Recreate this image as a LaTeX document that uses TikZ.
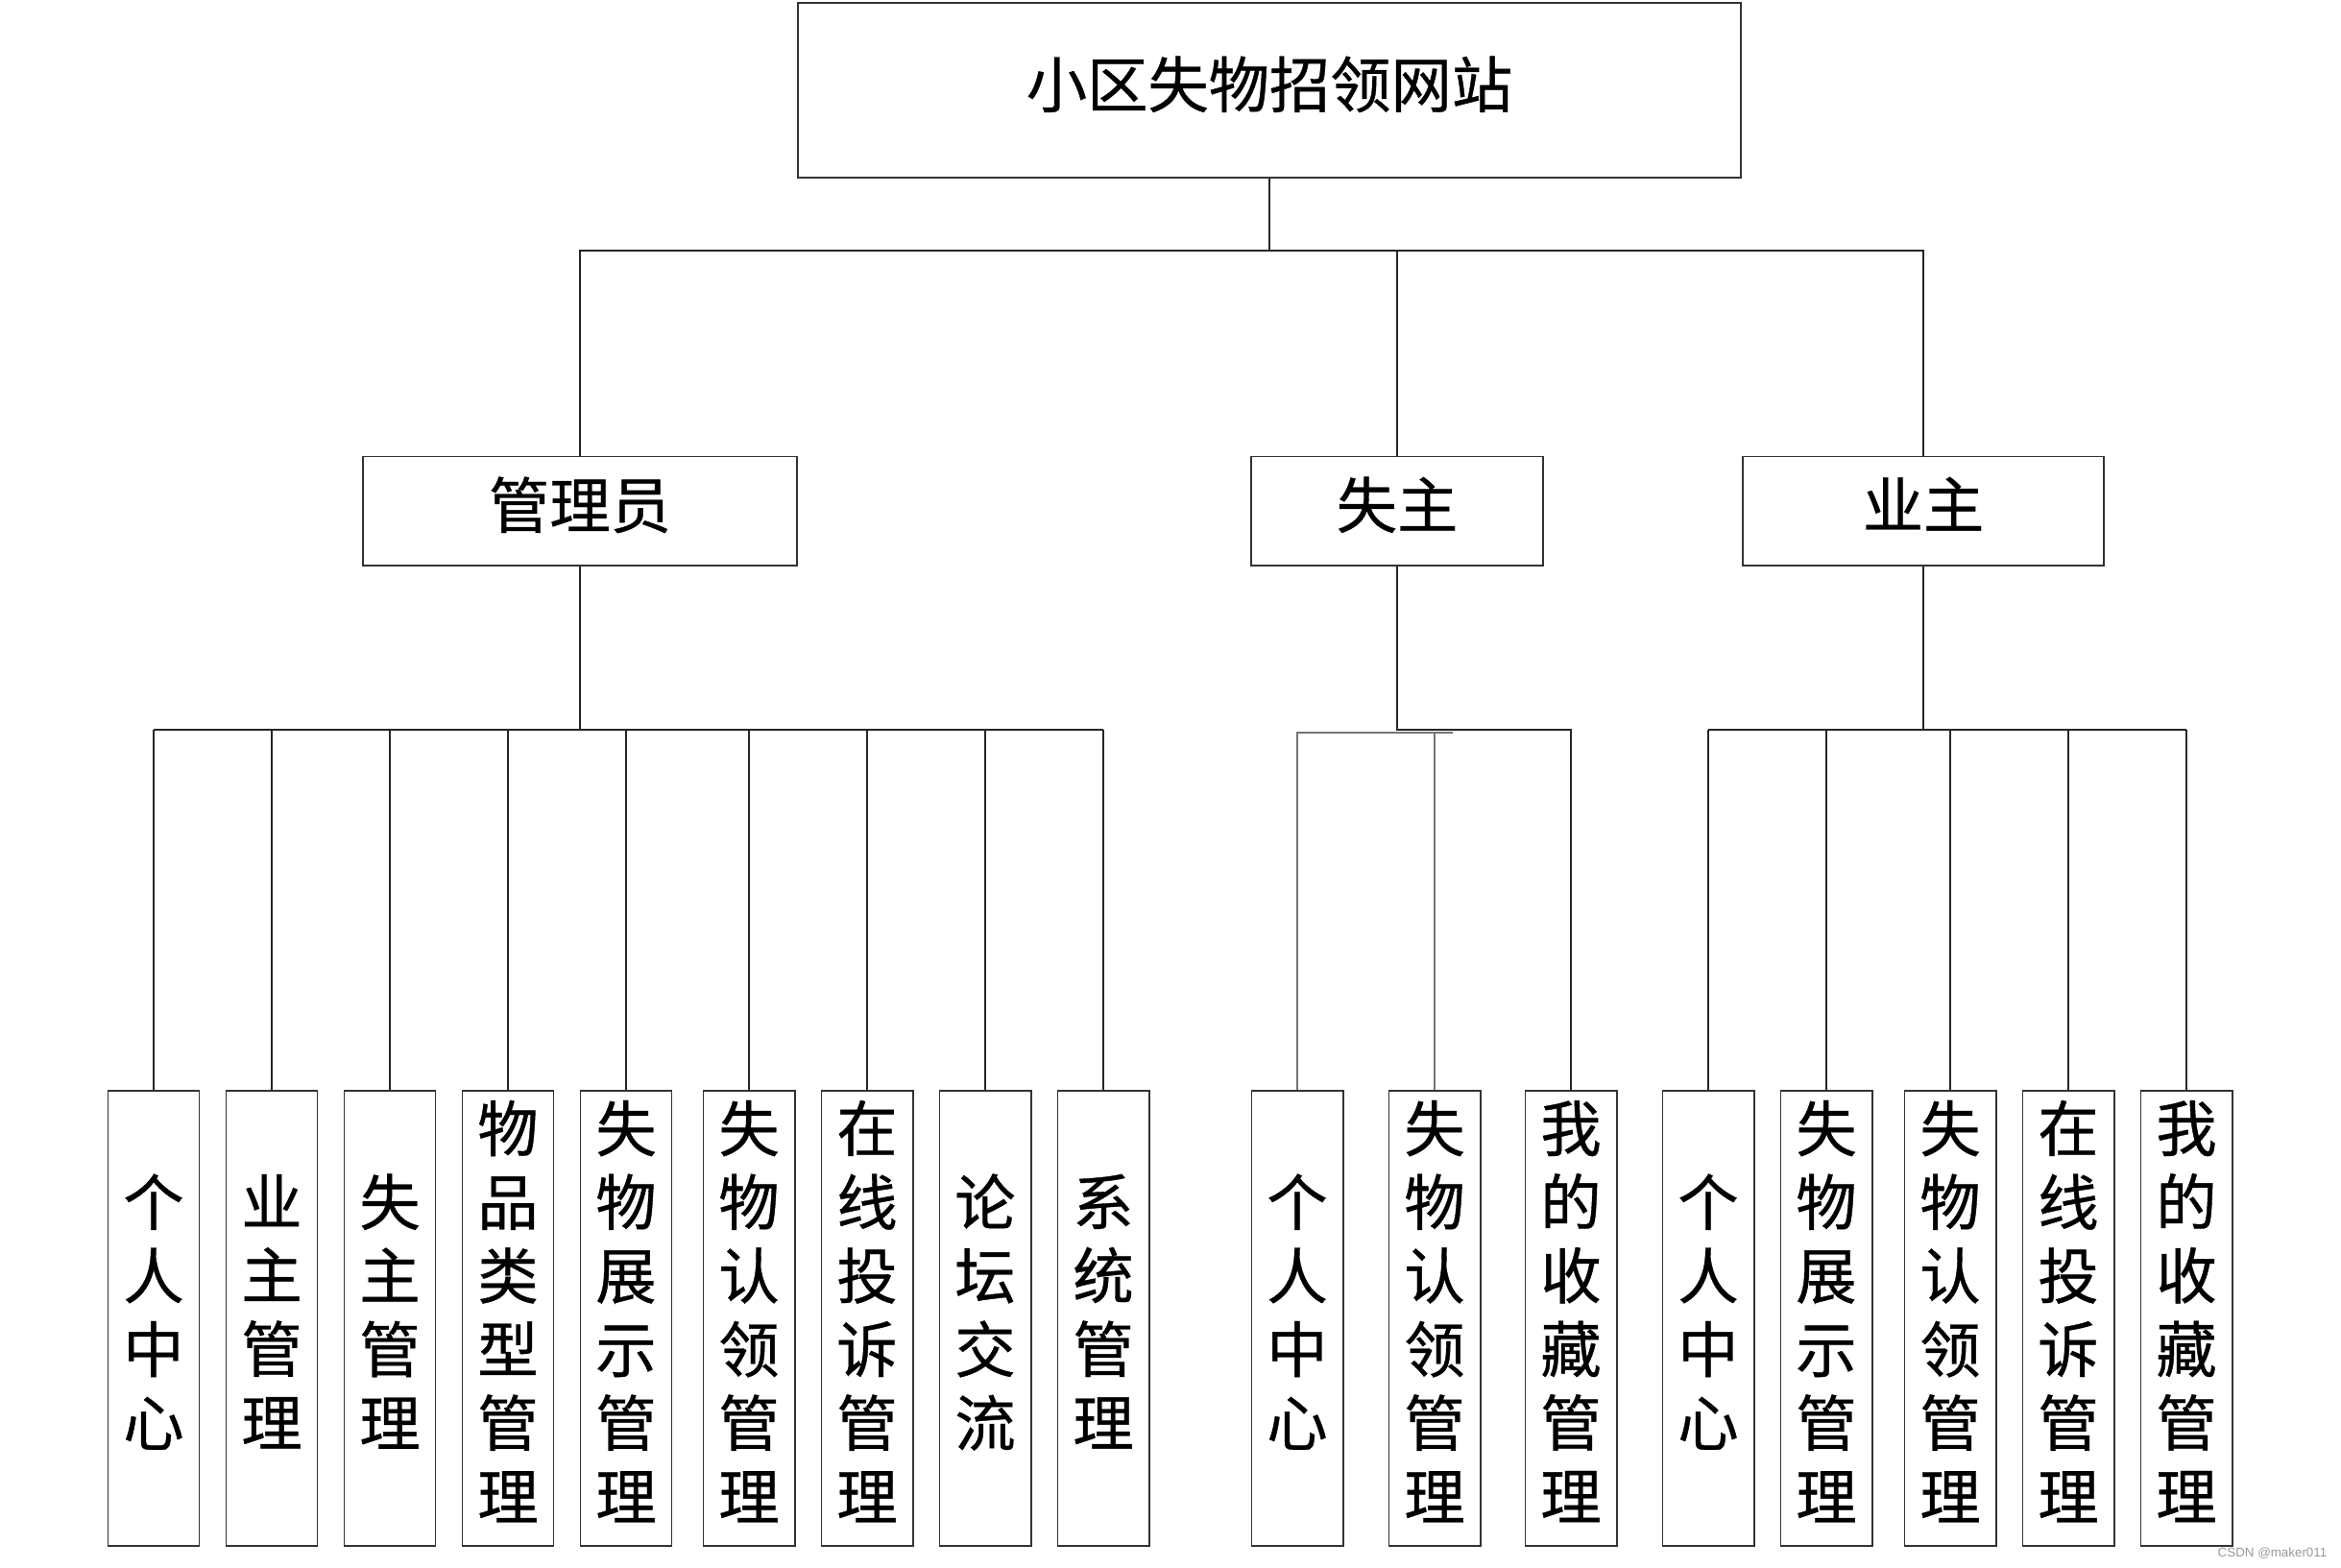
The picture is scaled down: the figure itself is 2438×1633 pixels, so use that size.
\documentclass[tikz,border=0pt]{standalone}
\usepackage{fontspec}
\setmainfont{Noto Sans CJK SC}[FakeBold=0.6]
\newfontfamily\markfont{Liberation Sans}

\begin{document}
\begin{tikzpicture}[x=0.01cm, y=-0.01cm,
    box/.style={draw=black!80, line width=0.55pt, fill=white, inner sep=0pt, text depth=5pt, font=\fontsize{18}{21.8}\selectfont},
    leaf/.style={box, minimum width=0.95cm, minimum height=4.73cm, align=center},
    link/.style={draw=black!85, line width=0.45pt},
    faint/.style={draw=black!55, line width=0.45pt}]
    \useasboundingbox (0,0) rectangle (2438,1633);

    % Draw top levels
    \node[box, minimum width=9.81cm, minimum height=1.81cm] (site) at (1322,94) {小区失物招领网站};
    \node[box, minimum width=4.52cm, minimum height=1.13cm] (admin) at (604,532) {管理员};
    \node[box, minimum width=3.03cm, minimum height=1.13cm] (loser) at (1455,532) {失主};
    \node[box, minimum width=3.76cm, minimum height=1.13cm] (owner) at (2003,532) {业主};

    \coordinate (topbus) at (1322,261);
    \draw[link] (site.south) -- (topbus);
    \draw[link] (admin.north) -- (admin.north |- topbus) -- (owner.north |- topbus) -- (owner.north);
    \draw[link] (loser.north) -- (loser.north |- topbus);

    % Draw leaves of admin
    \coordinate (adminbus) at (604,760);
    \foreach \x/\t [count=\i] in {160/{个\\人\\中\\心}, 283/{业\\主\\管\\理}, 406/{失\\主\\管\\理},
        529/{物\\品\\类\\型\\管\\理}, 652/{失\\物\\展\\示\\管\\理}, 780/{失\\物\\认\\领\\管\\理},
        903/{在\\线\\投\\诉\\管\\理}, 1026/{论\\坛\\交\\流}, 1149/{系\\统\\管\\理}} {
        \node[leaf] (a\i) at (\x,1373) {\t};
        \draw[link] (a\i.north) -- (a\i.north |- adminbus);
    }
    \draw[link] (admin.south) -- (adminbus);
    \draw[link] (a1.north |- adminbus) -- (a9.north |- adminbus);

    % Draw leaves of loser
    \coordinate (loserbus) at (1455,760);
    \coordinate (loserbus2) at (1455,763);
    \foreach \x/\t [count=\i] in {1351/{个\\人\\中\\心}, 1494/{失\\物\\认\\领\\管\\理}, 1636/{我\\的\\收\\藏\\管\\理}} {
        \node[leaf] (l\i) at (\x,1373) {\t};
    }
    \draw[link] (loser.south) -- (loserbus) -- (l3.north |- loserbus) -- (l3.north);
    \draw[faint] (l1.north) -- (l1.north |- loserbus2) -- ([xshift=0.19cm]l2.north |- loserbus2);
    \draw[faint] (l2.north) -- (l2.north |- loserbus2);

    % Draw leaves of owner
    \coordinate (ownerbus) at (2003,760);
    \foreach \x/\t [count=\i] in {1779/{个\\人\\中\\心}, 1902/{失\\物\\展\\示\\管\\理}, 2031/{失\\物\\认\\领\\管\\理},
        2154/{在\\线\\投\\诉\\管\\理}, 2277/{我\\的\\收\\藏\\管\\理}} {
        \node[leaf] (o\i) at (\x,1373) {\t};
        \draw[link] (o\i.north) -- (o\i.north |- ownerbus);
    }
    \draw[link] (owner.south) -- (ownerbus);
    \draw[link] (o1.north |- ownerbus) -- (o5.north |- ownerbus);

    \node[font=\markfont\fontsize{3.8}{4}\selectfont, text=black!40, anchor=east, inner sep=0pt] (mark) at (2424,1618) {CSDN @maker011};
\end{tikzpicture}
\end{document}
